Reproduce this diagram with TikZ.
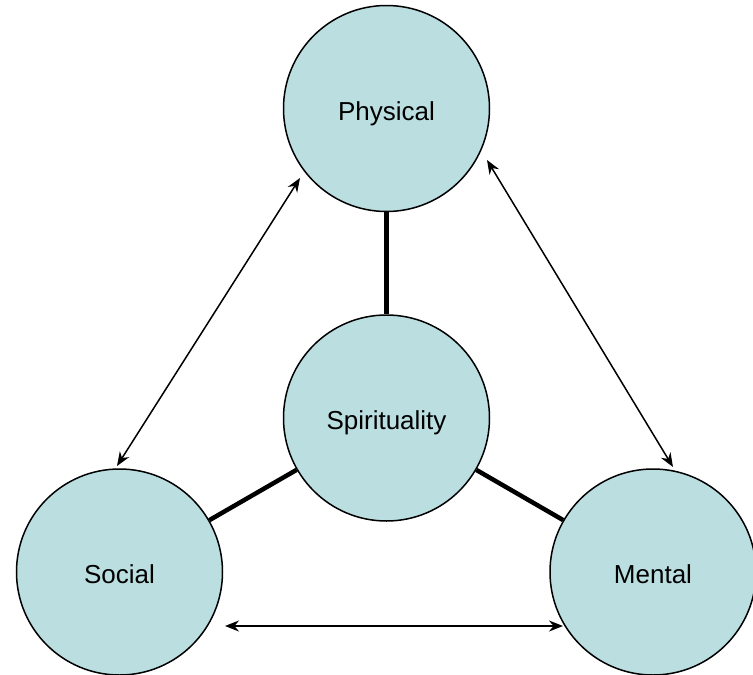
\documentclass[tikz,border=0pt]{standalone}
\usepackage{fontspec}
\setmainfont{Liberation Sans}
\usetikzlibrary{arrows.meta}
\definecolor{bubble}{RGB}{187,222,225}
\newcommand{\lowered}[1]{\raisebox{-11.5pt}[0pt][0pt]{#1}}
\tikzset{
  bubblenode/.style={circle, draw=black, line width=1.5pt, fill=bubble, minimum size=206pt, inner sep=0pt, font=\fontsize{26}{31}\selectfont},
  thickline/.style={line width=4.5pt},
  twoway/.style={line width=1.5pt, {Stealth[length=14pt,width=11pt]}-{Stealth[length=14pt,width=11pt]}}
}
\begin{document}
\begin{tikzpicture}[x=1pt,y=-1pt]
\useasboundingbox (0,0) rectangle (753,675);
\node[bubblenode] (phys) at (386.5,108.5) {\lowered{Physical}};
\node[bubblenode] (spir) at (386.5,418) {\lowered{Spirituality}};
\node[bubblenode] (soc) at (119.5,572) {\lowered{Social}};
\node[bubblenode] (ment) at (653,572) {\lowered{Mental}};
\draw[thickline] (phys) -- (spir);
\draw[thickline] (spir) -- (soc);
\draw[thickline] (spir) -- (ment);
\coordinate (pl) at (300,178);
\coordinate (st) at (117,466);
\coordinate (pr) at (487,160);
\coordinate (mt) at (673,467);
\coordinate (sb) at (225,626);
\coordinate (mb) at (563,626);
\draw[twoway] (pl) -- (st);
\draw[twoway] (pr) -- (mt);
\draw[twoway] (sb) -- (mb);
\end{tikzpicture}
\end{document}
